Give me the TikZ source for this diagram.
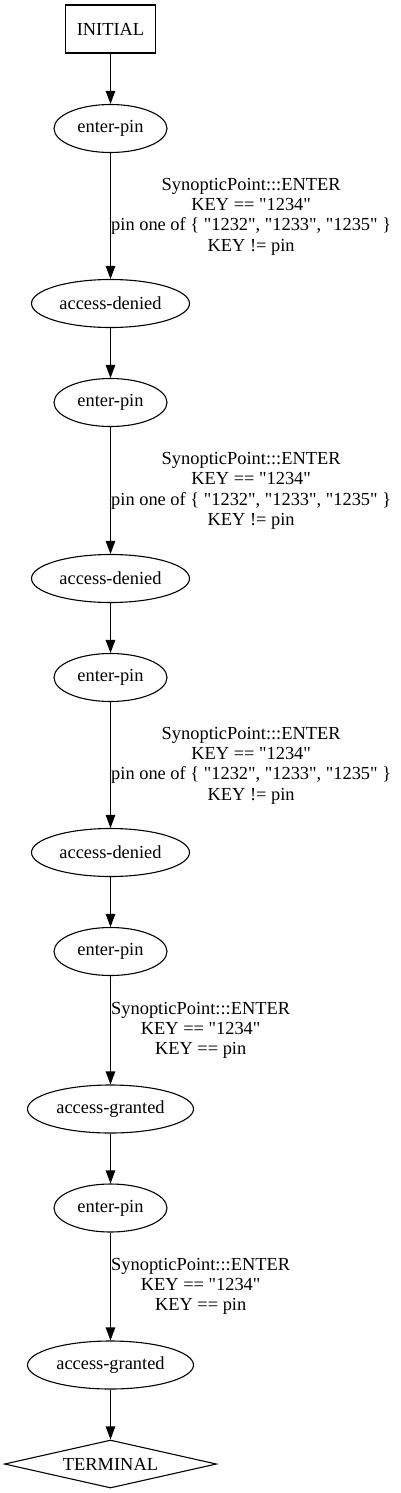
\documentclass[tikz,border=0pt]{standalone}
\usepackage{fontspec}
\setmainfont{Liberation Serif}[Ligatures=TeXOff]
\usetikzlibrary{shapes.geometric,arrows.meta}
\tikzset{
  base/.style={draw, line width=1.1pt, inner sep=0pt, font=\fontsize{18.4}{20.3}\selectfont},
  startbox/.style={base, rectangle, minimum width=90pt, minimum height=48pt},
  ell/.style={base, ellipse, minimum height=48pt},
  pinnode/.style={ell, minimum width=113pt},
  deniednode/.style={ell, minimum width=158pt},
  grantednode/.style={ell, minimum width=166pt},
  endnode/.style={base, diamond, aspect=4.4, minimum width=212pt, minimum height=48pt},
  edge/.style={line width=1.1pt, -{Triangle[length=13pt,width=9.5pt]}},
  lbl/.style={anchor=west, inner sep=0pt, align=center, font=\fontsize{18.4}{20.3}\selectfont}
}
\begin{document}
\begin{tikzpicture}[x=1pt,y=-1pt]
\useasboundingbox (0,0) rectangle (400,1493);
\node[startbox] (init) at (110.5,29) {INITIAL};
\node[pinnode] (ep1) at (110.5,128.5) {enter-pin};
\node[deniednode] (ad1) at (110.5,303.5) {access-denied};
\node[pinnode] (ep2) at (110.5,402.5) {enter-pin};
\node[deniednode] (ad2) at (110.5,578.5) {access-denied};
\node[pinnode] (ep3) at (110.5,677.5) {enter-pin};
\node[deniednode] (ad3) at (110.5,852.5) {access-denied};
\node[pinnode] (ep4) at (110.5,951.5) {enter-pin};
\node[grantednode] (ag1) at (110.5,1109) {access-granted};
\node[pinnode] (ep5) at (110.5,1208) {enter-pin};
\node[grantednode] (ag2) at (110.5,1365) {access-granted};
\node[endnode] (term) at (110.5,1464) {TERMINAL};

\draw[edge] (init) -- (ep1);
\draw[edge] (ep1) -- (ad1);
\draw[edge] (ad1) -- (ep2);
\draw[edge] (ep2) -- (ad2);
\draw[edge] (ad2) -- (ep3);
\draw[edge] (ep3) -- (ad3);
\draw[edge] (ad3) -- (ep4);
\draw[edge] (ep4) -- (ag1);
\draw[edge] (ag1) -- (ep5);
\draw[edge] (ep5) -- (ag2);
\draw[edge] (ag2) -- (term);

\node[lbl] (l1) at (111,216.5) {SynopticPoint:::ENTER\\KEY == "1234"\\pin one of \{ "1232", "1233", "1235" \}\\KEY != pin};
\node[lbl] (l2) at (111,491) {SynopticPoint:::ENTER\\KEY == "1234"\\pin one of \{ "1232", "1233", "1235" \}\\KEY != pin};
\node[lbl] (l3) at (111,765.5) {SynopticPoint:::ENTER\\KEY == "1234"\\pin one of \{ "1232", "1233", "1235" \}\\KEY != pin};
\node[lbl] (l4) at (111,1030.5) {SynopticPoint:::ENTER\\KEY == "1234"\\KEY == pin};
\node[lbl] (l5) at (111,1286.5) {SynopticPoint:::ENTER\\KEY == "1234"\\KEY == pin};
\end{tikzpicture}
\end{document}
